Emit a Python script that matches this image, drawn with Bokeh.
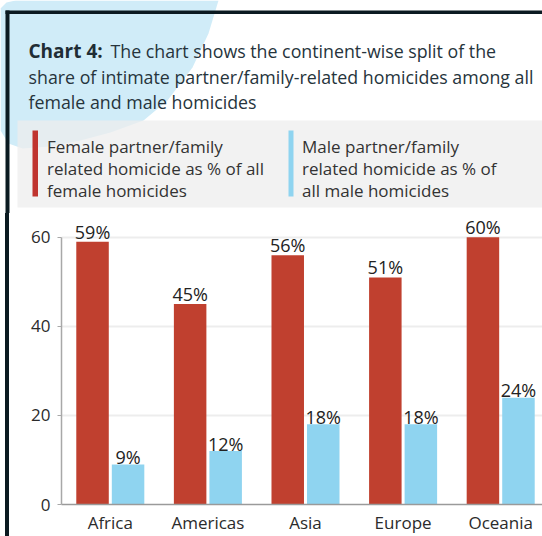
import numpy as np
from bokeh.plotting import figure
from bokeh.layouts import column, row
from bokeh.models import Range1d, FixedTicker, ColumnDataSource, Div
from bokeh.transform import dodge
from bokeh.core.properties import value
from bokeh.embed import file_html
from bokeh.resources import INLINE

# ---------------- data ----------------
categories = ["Africa", "Americas", "Asia", "Europe", "Oceania"]
female_share = [59, 45, 56, 51, 60]
male_share = [9, 12, 18, 18, 24]
y_ticks = [0, 20, 40, 60]

title_bold = "Chart 4:"
title_rest = "The chart shows the continent-wise split of the"
title_lines = ["share of intimate partner/family-related homicides among all",
               "female and male homicides"]
legend_female = ["Female partner/family", "related homicide as % of all", "female homicides"]
legend_male = ["Male partner/family", "related homicide as % of", "all male homicides"]

# ---------------- layout constants (px) ----------------
W, H = 542, 536
HH = 213                 # header height
HC = H - HH              # chart height
GAP_W = 5                # white strip left of the dark frame line
LINE_W = 4               # dark frame line width
CW = W - GAP_W - LINE_W  # chart figure width
FL = 61 - GAP_W - LINE_W # chart frame left (in chart figure)
FB = 291                 # chart frame bottom (in chart figure)
PX_GROUP = 97.6
PX_UNIT = 4.453
FONT = "Open Sans"
RED = "#c0402f"
BLUE = "#8fd4f0"
DARK = "#0b1a21"
TXT = "#2b2b2b"

# ---------------- header (pixel space, y downwards) ----------------
hd = figure(width=W, height=HH, output_backend="svg", toolbar_location=None,
            x_range=Range1d(0, W), y_range=Range1d(HH, 0),
            x_axis_type=None, y_axis_type=None, min_border=0,
            min_border_left=0, min_border_right=0, min_border_top=0, min_border_bottom=0,
            outline_line_color=None, background_fill_color="white",
            border_fill_color="white")
hd.grid.visible = False

blob_x = [0, 6, 15, 218, 208, 192, 167, 143, 110, 80, 50, 22, 8, 0]
blob_y = [8, 2, 0, 0, 33, 67, 100, 120, 132, 140, 146, 148, 143, 130]
hd.patch(blob_x, blob_y, fill_color="#d0ecf8", line_color=None)
# legend panel
hd.quad(left=[17], right=[W], top=[120], bottom=[207], fill_color="#eeeeee",
        fill_alpha=0.75, line_color=None)
# dark frame lines
hd.quad(left=[5], right=[W], top=[10], bottom=[13.5], fill_color=DARK, line_color=None)
hd.quad(left=[5], right=[5 + LINE_W], top=[10], bottom=[HH], fill_color=DARK,
        line_color=None)
# legend markers
hd.quad(left=[32, 288], right=[37.5, 293], top=[130, 130], bottom=[196, 196],
        fill_color=["#c0342f", BLUE], line_color=None)


def htext(xs, ys, texts, size, color, style="normal"):
    hd.text(x=xs, y=ys, text=texts, text_font=value(FONT), text_font_size=size,
            text_color=color, text_font_style=style, text_baseline="alphabetic",
            text_align="left")


htext([28], [50.5], [title_bold], "19px", "#1f2d35", "bold")
htext([110], [50.5], [title_rest], "17.8px", "#26343c")
htext([28] * len(title_lines), [76 + i * 25.5 for i in range(len(title_lines))],
      title_lines, "17.8px", "#26343c")
htext([46.5] * 3, [146 + i * 22 for i in range(3)], legend_female, "17px", "#333333")
htext([301.5] * 3, [146 + i * 22 for i in range(3)], legend_male, "17px", "#333333")

# ---------------- chart ----------------
idx = np.arange(len(categories)) + 0.5
src = ColumnDataSource(dict(
    x=idx, female=female_share, male=male_share,
    flab=[f"{v}%" for v in female_share], mlab=[f"{v}%" for v in male_share]))

p = figure(width=CW, height=HC, output_backend="svg", toolbar_location=None,
           x_range=Range1d(0, (CW - FL) / PX_GROUP),
           y_range=Range1d(0, FB / PX_UNIT),
           min_border_left=FL, min_border_right=0, min_border_top=0,
           min_border_bottom=HC - FB,
           outline_line_color=None, background_fill_color="white",
           border_fill_color="white")

OFF = 0.182
BW = 0.333
p.vbar(x=dodge("x", -OFF), top="female", width=BW, source=src, fill_color=RED,
       line_color=None)
p.vbar(x=dodge("x", OFF), top="male", width=BW, source=src, fill_color=BLUE,
       line_color=None)
p.text(x=dodge("x", -OFF), y="female", text="flab", source=src, text_align="center",
       text_baseline="alphabetic", y_offset=-10, text_font=value(FONT),
       text_font_size="18px", text_color="#222222")
p.text(x=dodge("x", OFF), y="male", text="mlab", source=src, text_align="center",
       text_baseline="alphabetic", y_offset=-7.5, text_font=value(FONT),
       text_font_size="18px", text_color="#222222")

p.xgrid.grid_line_color = None
p.ygrid.ticker = FixedTicker(ticks=y_ticks)
p.ygrid.grid_line_color = "#ededed"
p.ygrid.grid_line_width = 2

yax = p.yaxis[0]
yax.ticker = FixedTicker(ticks=y_ticks)
yax.bounds = (0, 60)
yax.axis_line_color = "#a8a8a8"
yax.axis_line_width = 1.5
yax.major_tick_line_color = "#a8a8a8"
yax.major_tick_out = 4
yax.major_tick_in = 0
yax.minor_tick_line_color = None
yax.major_label_standoff = 7
yax.major_label_text_font = FONT
yax.major_label_text_font_size = "17px"
yax.major_label_text_color = TXT

xax = p.xaxis[0]
xax.ticker = FixedTicker(ticks=list(idx))
xax.major_label_overrides = {float(v): c for v, c in zip(idx, categories)}
xax.axis_line_color = "#9a9a9a"
xax.axis_line_width = 1.5
xax.major_tick_line_color = None
xax.major_tick_out = 0
xax.major_tick_in = 0
xax.minor_tick_line_color = None
xax.major_label_standoff = 6
xax.major_label_text_font = FONT
xax.major_label_text_font_size = "17px"
xax.major_label_text_color = TXT

gap = Div(text="", width=GAP_W, height=HC, margin=0,
          styles={"background-color": "white"})
left_line = Div(text="", width=LINE_W, height=HC, margin=0,
                styles={"background-color": DARK})

layout = column(hd, row(gap, left_line, p, spacing=0), spacing=0)

open("out.html", "w").write(file_html(layout, INLINE))
